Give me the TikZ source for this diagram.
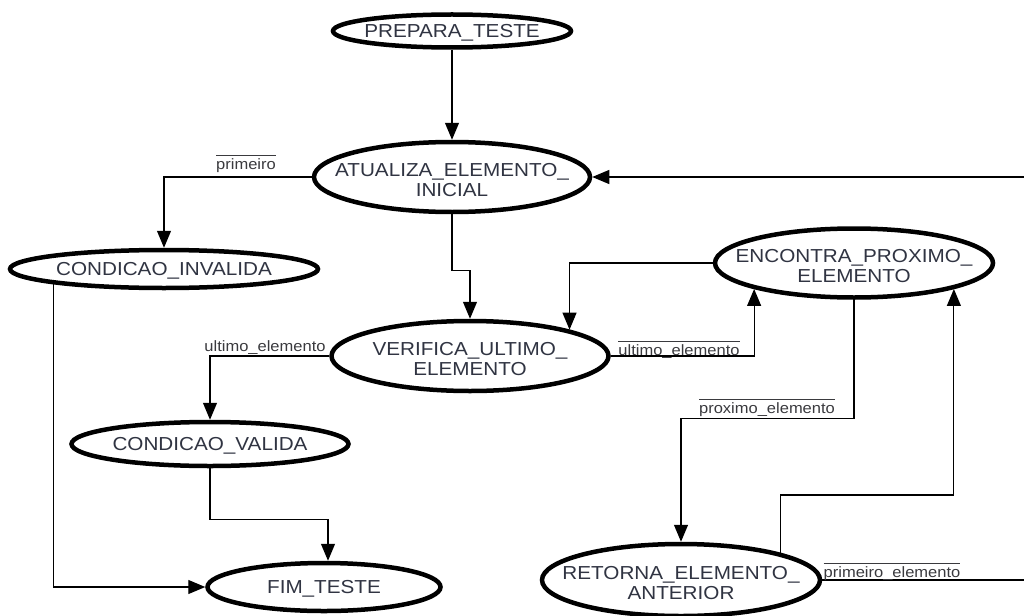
\documentclass[tikz,border=0pt]{standalone}
\usepackage{fontspec}
\setmainfont{Liberation Sans}[FakeStretch=1.1]
\usetikzlibrary{shapes.geometric,arrows.meta,calc}
\definecolor{nodetext}{RGB}{48,52,66}
\definecolor{lbltext}{RGB}{58,58,62}
% overlined guard text
\newcommand{\ovl}[1]{\leavevmode\vbox{\hrule height 1pt\kern 1.8pt\hbox{#1}}}
\begin{document}
\begin{tikzpicture}[x=1pt,y=-1pt,
  state/.style={ellipse, draw=black, line width=4.5pt, fill=white, inner sep=0pt},
  stxt/.style={font=\fontsize{18.8}{19.5}\selectfont, text=nodetext, align=center, yshift=-3pt},
  onetxt/.style={stxt, yshift=1pt},
  edge/.style={draw=black, line width=1.2pt},
  arr/.style={edge, -{Triangle[length=17pt,width=14pt]}},
  lbl/.style={font=\fontsize{15}{16}\selectfont, text=lbltext, anchor=base, inner sep=0pt}]
\useasboundingbox (0,0) rectangle (1024,615);

% states
\node[state, minimum width=238, minimum height=33,
  label={[onetxt]center:PREPARA\_TESTE}] (prep) at (452,31) {};
\node[state, minimum width=276, minimum height=70,
  label={[stxt]center:ATUALIZA\_ELEMENTO\_\\INICIAL}] (atu) at (452,177) {};
\node[state, minimum width=308, minimum height=38,
  label={[onetxt]center:CONDICAO\_INVALIDA}] (inv) at (164,269) {};
\node[state, minimum width=278, minimum height=69,
  label={[stxt]center:ENCONTRA\_PROXIMO\_\\ELEMENTO}] (enc) at (854,263) {};
\node[state, minimum width=277, minimum height=70,
  label={[stxt]center:VERIFICA\_ULTIMO\_\\ELEMENTO}] (ver) at (470,356) {};
\node[state, minimum width=277, minimum height=44,
  label={[onetxt]center:CONDICAO\_VALIDA}] (cv) at (210,444) {};
\node[state, minimum width=233, minimum height=48,
  label={[onetxt]center:FIM\_TESTE}] (fim) at (324,587) {};
\node[state, minimum width=278, minimum height=72,
  label={[stxt]center:RETORNA\_ELEMENTO\_\\ANTERIOR}] (ret) at (681,580) {};

% return path that leaves the right edge
\coordinate (rim) at (1032,0);

% transitions
\draw[arr] (prep.south) -- (atu.north);
\draw[arr] (atu.west) -| (inv.north);
\draw[arr] (atu.south) -- ++(0,56) -| (ver.north);
\draw[arr] (inv.south west) |- (fim.west);
\draw[arr] (ver.west) -| (cv.north);
\draw[arr] (cv.south) -- ++(0,51) -| ($(fim.north)+(4,0)$);
\draw[arr] (ver.east) -| (enc.south west);
\draw[arr] (enc.west) -| (ver.north east);
\draw[arr] (enc.south) -- ++(0,119) -| (ret.north);
\draw[arr] (ret.north east) -- ++(0,-58) -| (enc.south east);
\draw[arr] (ret.east) -- (ret.east -| rim) -- (atu.east -| rim) -- (atu.east);

% guards
\node[lbl] (g1) at (246,169) {\ovl{primeiro}};
\node[lbl] (g2) at (265,351) {ultimo\_elemento};
\node[lbl] (g3) at (679,355) {\ovl{ultimo\_elemento}};
\node[lbl] (g4) at (767,413) {\ovl{proximo\_elemento}};
\node[lbl] (g5) at (892,577) {\ovl{primeiro\_elemento}};
\end{tikzpicture}
\end{document}
